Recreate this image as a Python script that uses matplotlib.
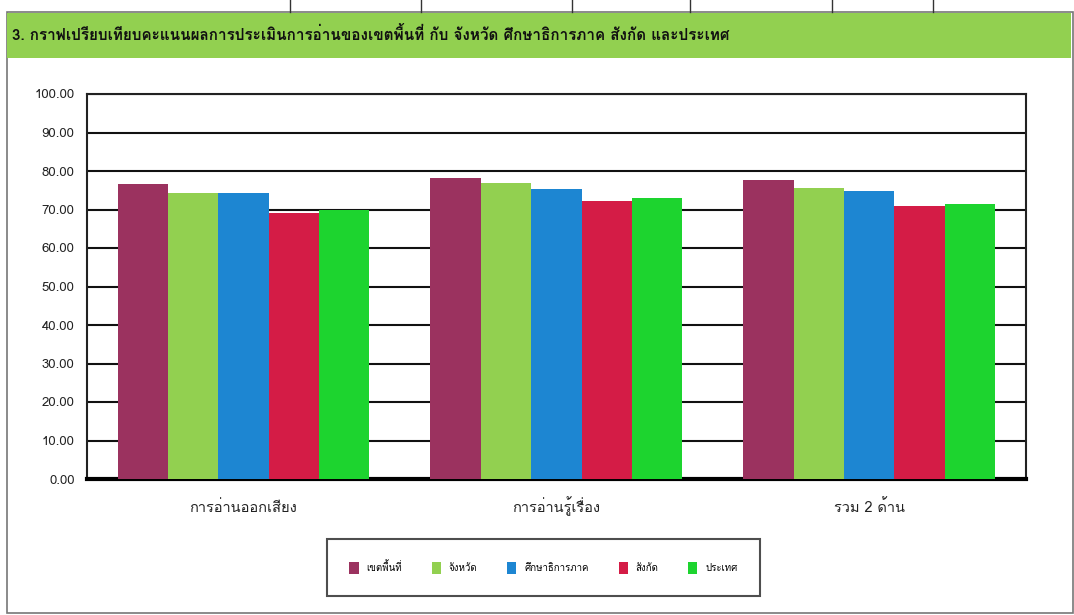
import matplotlib
matplotlib.use("Agg")
import matplotlib.pyplot as plt
import numpy as np
from matplotlib import font_manager
from matplotlib.ft2font import FT2Font
from matplotlib.patches import Rectangle
from matplotlib.lines import Line2D
from matplotlib.transforms import blended_transform_factory

# --- data -------------------------------------------------------------
title = "3. กราฟเปรียบเทียบคะแนนผลการประเมินการอ่านของเขตพื้นที่ กับ จังหวัด ศึกษาธิการภาค สังกัด และประเทศ"
categories = ["การอ่านออกเสียง", "การอ่านรู้เรื่อง", "รวม 2 ด้าน"]
series_names = ["เขตพื้นที่", "จังหวัด", "ศึกษาธิการภาค", "สังกัด", "ประเทศ"]
area_scores = [76.7, 78.2, 77.7]
province_scores = [74.2, 76.8, 75.7]
region_scores = [74.2, 75.2, 74.8]
affiliation_scores = [69.0, 72.3, 70.8]
country_scores = [69.8, 72.9, 71.4]
y_ticks = [0, 10, 20, 30, 40, 50, 60, 70, 80, 90, 100]

colors = ["#9B325F", "#92D050", "#1D86D2", "#D41C46", "#1DD42F"]


def find_thai_font():
    """Pick the first installed font that has Thai glyphs."""
    for path in sorted(font_manager.findSystemFonts()):
        try:
            if 0x0E01 in FT2Font(path).get_charmap():
                return font_manager.FontProperties(fname=path).get_name()
        except Exception:
            continue
    return None


thai = find_thai_font()
families = ([thai] if thai else []) + ["Liberation Sans", "DejaVu Sans"]
plt.rcParams["font.family"] = families

W, H = 1074, 615
fig = plt.figure(figsize=(W / 100, H / 100), dpi=100)


def fx(px):
    return px / W


def fy(py):
    return 1 - py / H


# outer frame, header band and the table ticks on top
fig.add_artist(Rectangle((fx(7), fy(613)), fx(1066), fy(12) - fy(613),
                         transform=fig.transFigure, facecolor="white",
                         edgecolor="#777777", linewidth=1.2, zorder=0))
fig.add_artist(Rectangle((fx(7), fy(58)), fx(1064), fy(13) - fy(58),
                         transform=fig.transFigure, facecolor="#92D050",
                         edgecolor="none", zorder=1))
for tx in [290, 421, 572, 690, 832, 933]:
    fig.add_artist(Line2D([fx(tx), fx(tx)], [fy(0), fy(12)],
                          transform=fig.transFigure, color="#333333", linewidth=1))
fig.text(fx(12), fy(35), title, fontsize=11, fontweight="bold",
         color="#111111", va="center", ha="left")

# --- chart ------------------------------------------------------------
ax = fig.add_axes([fx(87), fy(479), fx(1025.7) - fx(87), fy(94) - fy(479)])
all_series = [area_scores, province_scores, region_scores,
              affiliation_scores, country_scores]
x = np.arange(len(categories))
bw = 0.161
for i, (vals, name) in enumerate(zip(all_series, series_names)):
    ax.bar(x + (i - 2) * bw, vals, width=bw, color=colors[i], label=name,
           zorder=3, linewidth=0)

ax.set_xlim(-0.5, len(categories) - 0.5)
ax.set_ylim(0, 100)
ax.set_yticks(y_ticks)
ax.set_yticklabels([f"{v:.2f}" for v in y_ticks], fontsize=9.5, color="#222222")
ax.set_xticks(x)
ax.set_xticklabels([])
ax.tick_params(axis="both", length=0)
ax.tick_params(axis="y", pad=9)

# category labels on a common baseline (Thai upper vowels would shift them)
trans = blended_transform_factory(ax.transData, fig.transFigure)
for xi, cat in zip(x, categories):
    ax.text(xi, fy(512), cat, transform=trans, ha="center", va="baseline",
            fontsize=10.5, color="#222222")

ax.grid(axis="y", color="#111111", linewidth=1.5, zorder=1)
ax.set_axisbelow(True)
for side in ["left", "top", "right"]:
    ax.spines[side].set_color("#222222")
    ax.spines[side].set_linewidth(1.5)
ax.spines["bottom"].set_color("#000000")
ax.spines["bottom"].set_linewidth(3)

leg = fig.legend(loc="center", ncol=5, mode="expand",
                 bbox_to_anchor=(fx(327), fy(598), fx(760) - fx(327), fy(537) - fy(598)),
                 fontsize=7, frameon=True, fancybox=False, edgecolor="#222222",
                 handlelength=0.95, handleheight=1.5, handletextpad=0.8,
                 borderpad=2.3, borderaxespad=0)
leg.get_frame().set_linewidth(1.5)

fig.savefig("out.png", dpi=100)
